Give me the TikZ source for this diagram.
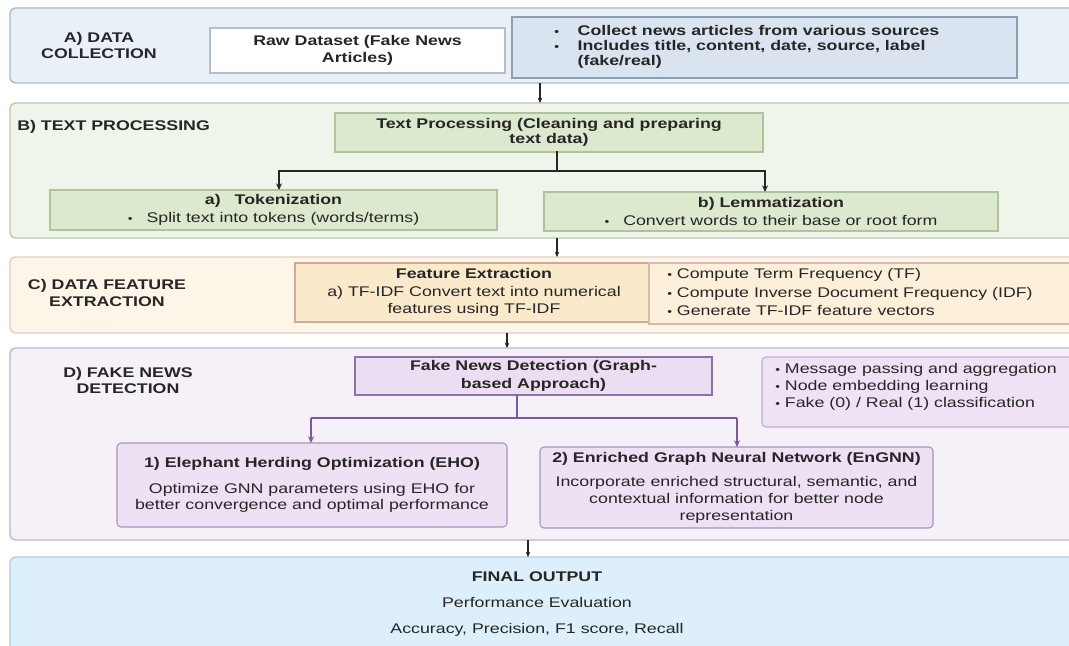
\documentclass[tikz,border=0pt]{standalone}
\usepackage{fontspec}
\setmainfont{Liberation Sans}[FakeStretch=1.27]
\usetikzlibrary{arrows.meta}
\definecolor{txt}{HTML}{262626}
\definecolor{aFill}{HTML}{E9F0F8}\definecolor{aDraw}{HTML}{A9B8C8}
\definecolor{rawDraw}{HTML}{B5BFCB}
\definecolor{abFill}{HTML}{DAE4F0}\definecolor{abDraw}{HTML}{8C9FB5}
\definecolor{bFill}{HTML}{EFF5EA}\definecolor{bDraw}{HTML}{BAC7B0}
\definecolor{gFill}{HTML}{DCE9CF}\definecolor{gDraw}{HTML}{AFC39D}
\definecolor{cFill}{HTML}{FDF5E8}\definecolor{cDraw}{HTML}{E5CBBF}
\definecolor{feFill}{HTML}{FBE9CB}\definecolor{feDraw}{HTML}{CFA99A}
\definecolor{cbFill}{HTML}{FCF0DA}\definecolor{cbDraw}{HTML}{D9B9A9}
\definecolor{dFill}{HTML}{F6F1F9}\definecolor{dDraw}{HTML}{BDB5C6}
\definecolor{pFill}{HTML}{EBDDF2}\definecolor{pDraw}{HTML}{8E72A6}
\definecolor{dbFill}{HTML}{EFE2F5}\definecolor{dbDraw}{HTML}{C0AECF}
\definecolor{eFill}{HTML}{EDE1F3}\definecolor{eDraw}{HTML}{A994BE}
\definecolor{fFill}{HTML}{DDEFFA}\definecolor{fDraw}{HTML}{B8C9D6}
\definecolor{purp}{HTML}{7A5A9C}
\newcommand{\boxnode}[7]{%
  \node[#1, minimum width={(#5-#3)*0.75pt}, minimum height={(#6-#4)*0.75pt}] (#2) at ({(#3+#5)/2},{(#4+#6)/2}) {#7};}
\newcommand{\fs}[1]{\fontsize{10.5pt}{#1}\selectfont}
\tikzset{
  base/.style={inner sep=0pt, outer sep=0pt, text=txt, line width=0.8pt},
  section/.style={base, rounded corners=4pt, line width=1pt},
  inbox/.style={base, align=center},
  lab/.style={text=txt, font=\fs{12pt}\bfseries, align=center, inner sep=0pt},
  plain/.style={text=txt, inner sep=0pt, align=left},
  conn/.style={draw=black!85, line width=0.9pt, -{Stealth[length=4pt,width=3.5pt]}},
  branch/.style={draw=black!85, line width=1.8pt, line cap=rect},
  barrow/.style={draw=black!85, line width=1.8pt, -{Stealth[length=5pt,width=4.5pt]}},
  pbranch/.style={draw=purp, line width=1.6pt},
  parrow/.style={draw=purp, line width=1.6pt, -{Stealth[length=5pt,width=4.5pt]}},
}
\begin{document}
\begin{tikzpicture}[x=0.75pt,y=-0.75pt]
\useasboundingbox (0,0) rectangle (1069,645);
\clip (0,0) rectangle (1069,645);
\fill[white] (0,0) rectangle (1069,645);

% ---------- A ----------
\boxnode{section, fill=aFill, draw=aDraw}{secA}{10}{8}{1085}{83}{}
\node[lab] (labA) at (99,45) {A) DATA\\COLLECTION};
\boxnode{inbox, fill=white, draw=rawDraw, font=\fs{13pt}\bfseries}{raw}{210}{28}{505}{73}{Raw Dataset (Fake News\\Articles)}
\boxnode{base, fill=abFill, draw=abDraw}{bulA}{512}{17}{1017}{78}{}
\node[plain, anchor=west, font=\fs{11pt}\bfseries] (tA) at (554,47.5)
 {\begin{tabular}{@{}l@{\hspace{14pt}}l@{}}{\footnotesize•}&Collect news articles from various sources\\{\footnotesize•}&Includes title, content, date, source, label\\&(fake/real)\end{tabular}};

% ---------- B ----------
\boxnode{section, fill=bFill, draw=bDraw}{secB}{10}{103}{1085}{238}{}
\node[lab, anchor=west] (labB) at (17,127) {B) TEXT PROCESSING};
\boxnode{inbox, fill=gFill, draw=gDraw, font=\fs{11.5pt}\bfseries}{tp}{335}{113}{763}{152}{Text Processing (Cleaning and preparing\\text data)}
\boxnode{inbox, fill=gFill, draw=gDraw, font=\fs{13.5pt}}{tok}{50}{190}{497}{230}{{\bfseries a)\quad Tokenization}\\{\footnotesize•}\quad Split text into tokens (words/terms)}
\boxnode{inbox, fill=gFill, draw=gDraw, font=\fs{13.5pt}}{lem}{544}{192}{998}{231}{{\bfseries b) Lemmatization}\\{\footnotesize•}\quad Convert words to their base or root form}
\coordinate (bj) at (557,171);
\draw[branch] (tp.south -| bj) -- (bj);
\draw[branch] (279,171) -- (765,171);
\draw[barrow] (279,171) -- (tok.north -| 279,0);
\draw[barrow] (765,171) -- (lem.north -| 765,0);

% ---------- C ----------
\boxnode{section, fill=cFill, draw=cDraw}{secC}{10}{257}{1085}{333}{}
\node[lab, font=\fs{12.5pt}\bfseries] (labC) at (107,293) {C) DATA FEATURE\\EXTRACTION};
\boxnode{inbox, fill=feFill, draw=feDraw, font=\fs{13pt}}{fe}{295}{263}{653}{322}{{\bfseries Feature Extraction}\\a) TF-IDF Convert text into numerical\\features using TF-IDF}
\boxnode{base, fill=cbFill, draw=cbDraw}{bulC}{649}{263}{1085}{324}{}
\node[plain, anchor=west, font=\fs{14pt}] (tC) at (667,292)
 {{\footnotesize•} Compute Term Frequency (TF)\\{\footnotesize•} Compute Inverse Document Frequency (IDF)\\{\footnotesize•} Generate TF-IDF feature vectors};

% ---------- D ----------
\boxnode{section, fill=dFill, draw=dDraw}{secD}{10}{348}{1085}{540}{}
\node[lab] (labD) at (128,380) {D) FAKE NEWS\\DETECTION};
\boxnode{inbox, fill=pFill, draw=pDraw, font=\fs{13.5pt}\bfseries}{fnd}{355}{357}{712}{395}{Fake News Detection (Graph-\\based Approach)}
\boxnode{base, fill=dbFill, draw=dbDraw, rounded corners=3pt}{bulD}{762}{357}{1085}{427}{}
\node[plain, anchor=west, font=\fs{12.5pt}] (tD) at (775,387)
 {{\footnotesize•} Message passing and aggregation\\{\footnotesize•} Node embedding learning\\{\footnotesize•} Fake (0) / Real (1) classification};
\boxnode{inbox, fill=eFill, draw=eDraw, rounded corners=3pt, font=\fs{12pt}}{eho}{117}{443}{507}{527}{{\bfseries 1) Elephant Herding Optimization (EHO)}\\[7pt]Optimize GNN parameters using EHO for\\better convergence and optimal performance}
\boxnode{inbox, fill=eFill, draw=eDraw, rounded corners=3pt, font=\fs{12.5pt}}{eng}{540}{447}{933}{528}{{\bfseries 2) Enriched Graph Neural Network (EnGNN)}\\[6pt]Incorporate enriched structural, semantic, and\\contextual information for better node\\representation}
\coordinate (dj) at (517,418);
\draw[pbranch] (fnd.south -| dj) -- (dj);
\draw[pbranch] (311,418) -- (737,418);
\draw[parrow] (311,418) -- (eho.north -| 311,0);
\draw[parrow] (737,418) -- (eng.north -| 737,0);

% ---------- Final ----------
\boxnode{section, fill=fFill, draw=fDraw}{secF}{10}{557}{1085}{670}{}
\node[plain, align=center, font=\fs{19.5pt}] (fout) at (537,604)
 {{\bfseries FINAL OUTPUT}\\Performance Evaluation\\Accuracy, Precision, F1 score, Recall};

% ---------- connectors between sections ----------
\draw[conn] (secA.south -| 540,0) -- (secB.north -| 540,0);
\draw[conn] (secB.south -| 557,0) -- (secC.north -| 557,0);
\draw[conn] (secC.south -| 507,0) -- (secD.north -| 507,0);
\draw[conn] (secD.south -| 528,0) -- (secF.north -| 528,0);
\end{tikzpicture}
\end{document}
